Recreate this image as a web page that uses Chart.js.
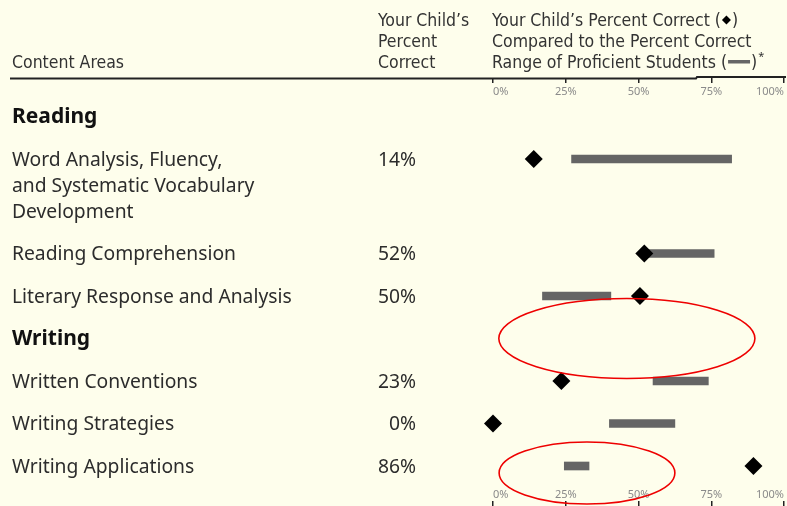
<!DOCTYPE html>
<html>
<head>
<meta charset="utf-8">
<script src="https://cdn.jsdelivr.net/npm/chart.js@4.4.1/dist/chart.umd.min.js"></script>
<style>
  html, body { margin: 0; padding: 0; background: #fefeec; }
  canvas { display: block; }
</style>
</head>
<body>
<canvas id="chart" width="787" height="506"></canvas>
<script>
// table rows, top to bottom (section rows carry no marks)
const categories = [
    ['Reading'],
    ['Word Analysis, Fluency,', 'and Systematic Vocabulary', 'Development'],
    ['Reading Comprehension'],
    ['Literary Response and Analysis'],
    ['Writing'],
    ['Written Conventions'],
    ['Writing Strategies'],
    ['Writing Applications']
];
const sectionRows = [true, false, false, false, true, false, false, false];
const percentLabels = ['', '14%', '52%', '50%', '', '23%', '0%', '86%'];
// diamond positions and proficient ranges
const childScores = [null, 14, 52, 50.5, null, 23.5, 0, 89.5];
const rangeLow = [null, 27, 52, 17, null, 55, 40, 24.5];
const rangeHigh = [null, 82, 76, 40.5, null, 74, 62.5, 33];
const xTicks = [0, 25, 50, 75, 100];

// vertical layout of rows: one step per row, plus extra lines for wrapped labels
const ROW_STEP = 42.5;
const LINE_STEP = 26;
const rowPos = [];
let acc = 0;
categories.forEach((lines, i) => {
    if (i > 0) acc += ROW_STEP + (categories[i - 1].length - 1) * LINE_STEP;
    rowPos.push(acc);
});
// y runs in pixel-sized units, first row 38.5px under the plot top (y = 78)
const Y_MIN = -38.5;

const bodyFont = '19.3px "Noto Sans"';
const headFont = '17.5px "DejaVu Sans Condensed", "Liberation Sans Narrow", "Noto Sans"';

const tablePlugin = {
    id: 'table',
    afterDraw(chart) {
        const ctx = chart.ctx;
        const xs = chart.scales.x;
        const ys = chart.scales.y;
        ctx.save();
        ctx.textBaseline = 'alphabetic';

        // column headers
        ctx.fillStyle = '#333';
        ctx.font = headFont;
        ctx.textAlign = 'left';
        ctx.fillText('Content Areas', 12, 68);
        ctx.fillText('Your Child\u2019s', 378, 26);
        ctx.fillText('Percent', 378, 47);
        ctx.fillText('Correct', 378, 68);

        let t = 'Your Child\u2019s Percent Correct (';
        ctx.fillText(t, 492, 26);
        let w = ctx.measureText(t).width;
        ctx.fillStyle = '#000';
        ctx.beginPath();
        ctx.moveTo(492 + w + 1, 20);
        ctx.lineTo(492 + w + 5.5, 15.5);
        ctx.lineTo(492 + w + 10, 20);
        ctx.lineTo(492 + w + 5.5, 24.5);
        ctx.closePath();
        ctx.fill();
        ctx.fillStyle = '#333';
        ctx.fillText(')', 492 + w + 11, 26);
        ctx.fillText('Compared to the Percent Correct', 492, 47);
        t = 'Range of Proficient Students (';
        ctx.fillText(t, 492, 68);
        w = ctx.measureText(t).width;
        ctx.fillStyle = '#666';
        ctx.fillRect(492 + w + 1, 60, 22, 3.5);
        ctx.fillStyle = '#333';
        ctx.fillText(')', 492 + w + 24, 68);
        const w2 = ctx.measureText(')').width;
        ctx.font = '11px "Noto Sans"';
        ctx.fillText('*', 492 + w + 25 + w2, 60);

        // header rule, with its small step near the right end
        ctx.strokeStyle = '#222';
        ctx.lineWidth = 2;
        ctx.beginPath();
        ctx.moveTo(10, 78.5);
        ctx.lineTo(696, 78.5);
        ctx.lineTo(697, 77);
        ctx.lineTo(786, 77);
        ctx.stroke();

        // row labels and the child's percent column
        categories.forEach((lines, i) => {
            const py = ys.getPixelForValue(rowPos[i]);
            if (sectionRows[i]) {
                ctx.font = 'bold 21px "Noto Sans"';
                ctx.fillStyle = '#111';
                ctx.textAlign = 'left';
                ctx.fillText(lines[0], 12, py + 6.5);
                return;
            }
            ctx.font = bodyFont;
            ctx.fillStyle = '#2c2c2c';
            ctx.textAlign = 'left';
            lines.forEach((line, k) => ctx.fillText(line, 12, py + 6.5 + k * LINE_STEP));
            ctx.textAlign = 'right';
            ctx.fillText(percentLabels[i], 416, py + 6.5);
        });

        // red hand-drawn style circles
        const unit = xs.getPixelForValue(1) - xs.getPixelForValue(0);
        ctx.strokeStyle = '#ee0000';
        ctx.lineWidth = 1.6;
        ctx.beginPath();
        ctx.ellipse(xs.getPixelForValue(46), ys.getPixelForValue(rowPos[4]), 44 * unit, 40, 0, 0, Math.PI * 2);
        ctx.stroke();
        ctx.beginPath();
        ctx.ellipse(xs.getPixelForValue(32.3), ys.getPixelForValue(rowPos[7]) + 7, 30.2 * unit, 31, 0, 0, Math.PI * 2);
        ctx.stroke();
        ctx.restore();
    }
};

const markRows = categories.map((_, i) => i).filter(i => !sectionRows[i]);

const setTicks = scale => { scale.ticks = xTicks.map(v => ({ value: v })); };
const tickFont = { family: 'Noto Sans', size: 11 };

const chart = new Chart(document.getElementById('chart'), {
    type: 'bar',
    data: {
        datasets: [{
            type: 'scatter',
            label: 'Your Child\u2019s Percent Correct',
            data: markRows.map(i => ({ x: childScores[i], y: rowPos[i] })),
            pointStyle: 'rectRot',
            pointRadius: 9,
            pointHoverRadius: 9,
            backgroundColor: '#000',
            borderWidth: 0,
            clip: false,
            order: 0
        }, {
            type: 'bar',
            label: 'Percent Correct Range of Proficient Students',
            data: markRows.map(i => ({ x: [rangeLow[i], rangeHigh[i]], y: rowPos[i] })),
            backgroundColor: '#656565',
            borderWidth: 0,
            barThickness: 8,
            order: 1
        }]
    },
    options: {
        indexAxis: 'y',
        responsive: false,
        animation: false,
        layout: { autoPadding: false, padding: { left: 493, right: 3, top: 78, bottom: 0 } },
        plugins: { legend: { display: false }, tooltip: { enabled: false } },
        scales: {
            y: { type: 'linear', display: false, reverse: true, offset: false, min: Y_MIN, max: Y_MIN + 428 },
            x: {
                type: 'linear', min: 0, max: 100,
                position: { y: Y_MIN },
                afterBuildTicks: setTicks,
                border: { display: false },
                grid: { drawOnChartArea: false, tickLength: 5, color: '#222', lineWidth: 1.5 },
                ticks: { align: 'inner', padding: 2.5, font: tickFont, color: '#8a8a8a', callback: v => v + '%' }
            },
            xLabels: {
                type: 'linear', axis: 'x', min: 0, max: 100,
                position: { y: 363.5 },
                afterBuildTicks: setTicks,
                border: { display: false },
                grid: { display: false },
                ticks: { align: 'inner', padding: 0, font: tickFont, color: '#8a8a8a', callback: v => v + '%' }
            },
            xMarks: {
                type: 'linear', axis: 'x', min: 0, max: 100,
                position: { y: 384.5 },
                afterBuildTicks: setTicks,
                border: { display: false },
                grid: { drawOnChartArea: false, tickLength: 6, color: '#222', lineWidth: 1.5 },
                ticks: { display: false }
            }
        }
    },
    plugins: [tablePlugin]
});

// keep one y unit per pixel over whatever plot height the layout gave
const area = chart.chartArea;
chart.options.scales.y.max = Y_MIN + (area.bottom - area.top);
chart.update();
</script>
</body>
</html>
